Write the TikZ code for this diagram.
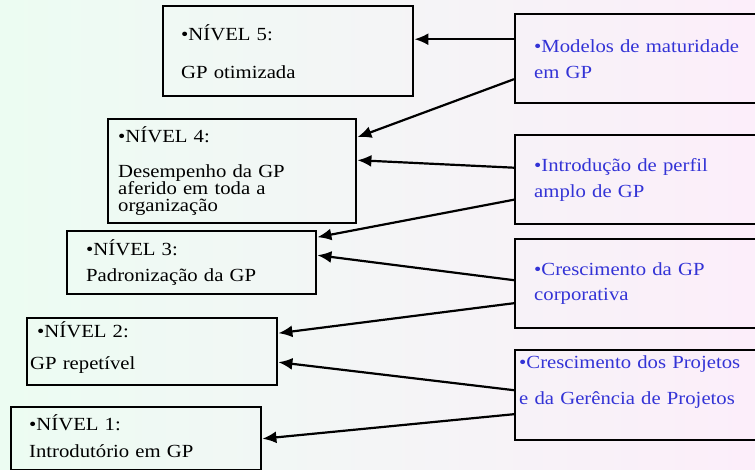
\documentclass[tikz,border=0pt]{standalone}
\usepackage{fontspec}
\setmainfont{Liberation Serif}[FakeStretch=1.12]
\usetikzlibrary{arrows.meta}
\definecolor{menta}{RGB}{236,252,242}
\definecolor{rosa}{RGB}{252,238,250}
\definecolor{azul}{RGB}{51,51,214}
\protected\def\apertado{\lineskiplimit=-50pt\relax}
\tikzset{
	caixa/.style={draw, line width=2.4pt, anchor=north west, align=left, inner ysep=0pt,
		font=\fontsize{18.5pt}{14pt}\selectfont, execute at begin node=\apertado},
	nivel/.style={caixa, text=black},
	fator/.style={caixa, text=azul, minimum height=89pt},
	seta/.style={line width=2.2pt, -{Latex[length=14pt,width=12pt]}}
}

\begin{document}
\begin{tikzpicture}[x=1pt,y=-1pt]
\clip (0,0) rectangle (755,470);
\shade[left color=menta, right color=rosa] (0,0) rectangle (755,470);

%niveis
\node[nivel, minimum height=90pt, inner xsep=18pt, text width=214pt] (n5) at (162,5)
	{•NÍVEL 5:\\[24pt]GP otimizada};
\node[nivel, minimum height=104pt, inner xsep=10pt, text width=228pt] (n4) at (107,118)
	{•NÍVEL 4:\\[21pt]Desempenho da GP\\[3pt]aferido em toda a\\[3pt]organização};
\node[nivel, minimum height=63pt, inner xsep=19pt, text width=211pt] (n3) at (66,230)
	{•NÍVEL 3:\\[12pt]Padronização da GP};
\node[nivel, minimum height=67pt, inner xsep=3pt, text width=244pt] (n2) at (26,317)
	{\hspace*{7pt}•NÍVEL 2:\\[18pt]GP repetível\\[-2pt]\mbox{}};
\node[nivel, minimum height=63pt, inner xsep=18pt, text width=214pt] (n1) at (10,406)
	{•NÍVEL 1:\\[13pt]Introdutório em GP\\[-8pt]\mbox{}};

%fatores
\node[fator, inner xsep=19pt, text width=207pt] (mod) at (514,13)
	{•Modelos de maturidade\\[12pt]em GP};
\node[fator, inner xsep=19pt, text width=207pt] (int) at (514,134)
	{•Introdução de perfil\\[12pt]amplo de GP};
\node[fator, inner xsep=19pt, text width=207pt] (cre) at (514,238)
	{•Crescimento da GP\\[11pt]corporativa};
\node[fator, minimum height=90pt, inner xsep=4pt, text width=237pt] (prj) at (514,349)
	{•Crescimento dos Projetos\\[22pt]e da Gerência de Projetos\\[16pt]\mbox{}};

%setas
\draw[seta] ([yshift=19.5pt]mod.west) -- ([yshift=12pt]n5.east);
\draw[seta] ([yshift=-20.5pt]mod.west) -- ([yshift=34pt]n4.east);
\draw[seta] ([yshift=12pt]int.west) -- ([yshift=11pt]n4.east);
\draw[seta] ([yshift=-20pt]int.west) -- ([yshift=25.5pt]n3.east);
\draw[seta] ([yshift=3.5pt]cre.west) -- ([yshift=7.5pt]n3.east);
\draw[seta] ([yshift=-19.5pt]cre.west) -- ([yshift=18.5pt]n2.east);
\draw[seta] ([yshift=5pt]prj.west) -- ([yshift=-10.5pt]n2.east);
\draw[seta] ([yshift=-19pt]prj.west) -- (n1.east);
\end{tikzpicture}
\end{document}
